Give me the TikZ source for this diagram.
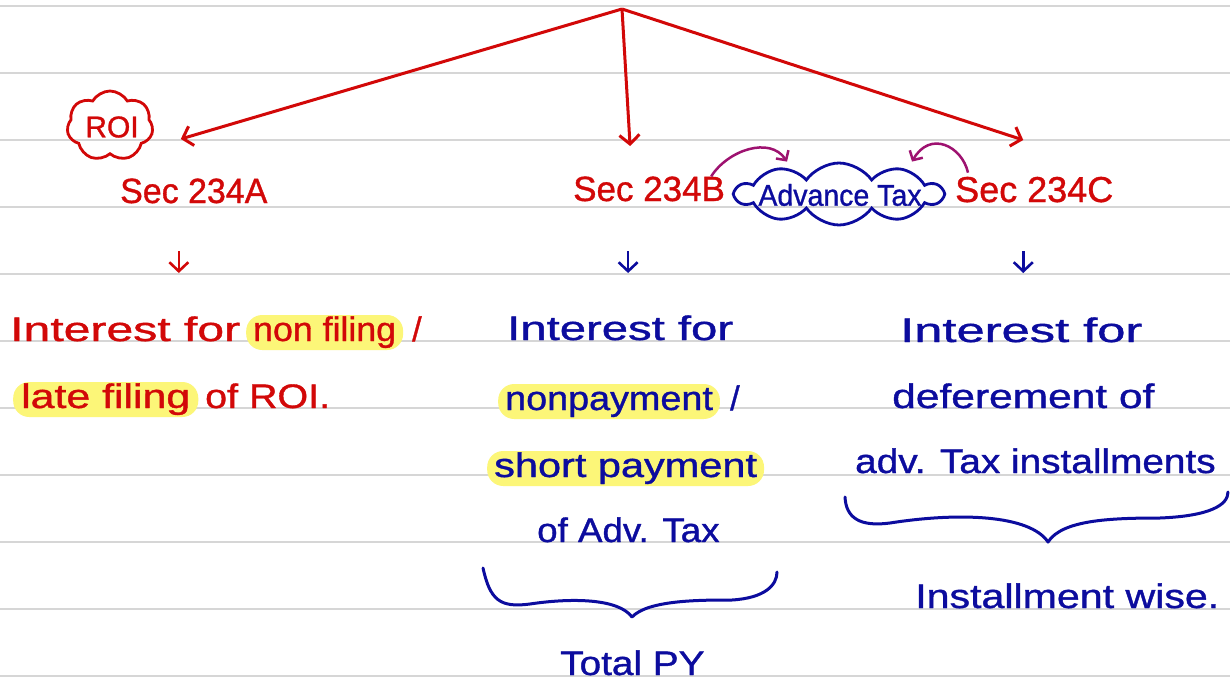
\documentclass[tikz,border=0pt]{standalone}
\usepackage{fontspec}
\setmainfont{Liberation Sans}[FakeBold=1]
\usetikzlibrary{arrows.meta,shapes.symbols,calc}
\definecolor{penred}{RGB}{210,8,8}
\definecolor{penblue}{RGB}{12,12,158}
\definecolor{penpurple}{RGB}{158,18,112}
\definecolor{hiyellow}{RGB}{252,246,120}
\definecolor{rulegray}{RGB}{214,214,214}
\newcommand{\fsz}[1]{\fontsize{#1}{#1}\selectfont}
\newcommand{\hw}[2]{\scalebox{#1}[1]{#2}}
\begin{document}
\begin{tikzpicture}[x=1pt,y=-1pt,
  redtxt/.style={text=penred, inner sep=0pt, anchor=base west, font=\fsz{34}},
  bluetxt/.style={text=penblue, inner sep=0pt, anchor=base west, font=\fsz{34}},
  hl/.style={fill=hiyellow, rounded corners=16pt, inner xsep=7pt, inner ysep=0pt, text height=26pt, text depth=9pt, anchor=base west, font=\fsz{34}},
  redarrow/.style={draw=penred, line width=3pt, -{Straight Barb[length=9pt,width=20pt,line width=3pt]}},
  smallred/.style={draw=penred, line width=2.6pt, -{Straight Barb[length=9pt,width=19pt,line width=2.6pt]}},
  smallblue/.style={draw=penblue, line width=2.6pt, -{Straight Barb[length=9pt,width=19pt,line width=2.6pt]}},
  purplearrow/.style={draw=penpurple, line width=2.5pt, -{Straight Barb[length=7pt,width=15pt,line width=2.5pt]}},
  bracepen/.style={draw=penblue, line width=3pt, line cap=round, line join=round},
  ruleline/.style={draw=rulegray, line width=1.6pt}
]
\fill[white] (0,0) rectangle (1230,682);
\useasboundingbox (0,0) rectangle (1230,682);
\foreach \y in {6,73,...,676} \draw[ruleline] (0,\y) -- (1230,\y);

% top
\coordinate (apex) at (622,9);
\node[redtxt, font=\fsz{35}] (s234a) at (120,203) {\hw{0.97}{Sec 234A}};
\node[redtxt, font=\fsz{35}] (s234b) at (573,201) {Sec 234B};
\node[redtxt, font=\fsz{36}] (s234c) at (955,202) {Sec 234C};
\draw[redarrow] (apex) -- ([xshift=-13pt,yshift=64pt]s234a.base);
\draw[redarrow] (apex) -- ([xshift=-19pt,yshift=55pt]s234b.base);
\draw[redarrow] (apex) -- ([xshift=-11pt,yshift=62pt]s234c.base);

% clouds
\node[cloud, draw=penred, line width=2.8pt, cloud puffs=7, cloud puff arc=120, aspect=1.2, minimum width=86pt, minimum height=70pt] (roic) at (110,126) {};
\node[text=penred, inner sep=0pt, font=\fsz{30}] (roi) at (112,127) {ROI};
\node[cloud, draw=penblue, line width=2.8pt, cloud puffs=10, cloud puff arc=110, aspect=3.3, minimum width=206pt, minimum height=62pt] (advc) at (839,194) {};
\node[text=penblue, inner sep=0pt, font=\fsz{30}] (adv) at (840,195) {\hw{0.95}{Advance Tax}};

% purple arrows
\draw[purplearrow] ([xshift=-14pt]s234b.north east) .. controls (728,150) and (770,136) .. ([xshift=-52pt]advc.north);
\draw[purplearrow] ([xshift=13pt,yshift=4pt]s234c.north west) .. controls (962,146) and (930,130) .. ([xshift=73pt]advc.north);

% small arrows
\draw[smallred] ([xshift=-15pt,yshift=-48pt]s234a.base) -- ([xshift=-15pt,yshift=-70pt]s234a.base);
\draw[smallblue] ([xshift=-21pt,yshift=-50pt]s234b.base) -- ([xshift=-21pt,yshift=-72pt]s234b.base);
\draw[smallblue] ([xshift=-11pt,yshift=-49pt]s234c.base) -- ([xshift=-11pt,yshift=-71pt]s234c.base);

% left column
\node[redtxt] (a1) at (10,341) {\hw{1.415}{Interest for}};
\node[hl, text=penred] (a2) at (246,341) {\hw{1.05}{non filing}};
\node[redtxt] (a3) at (412,341) {/};
\node[hl, text=penred, inner xsep=8pt] (a4) at (13,408) {\hw{1.26}{late filing}};
\node[redtxt] (a5) at (205,408) {\hw{1.16}{of ROI.}};

% middle column
\node[bluetxt] (b1) at (507,340) {\hw{1.39}{Interest for}};
\node[hl, text=penblue] (b2) at (498,410) {\hw{1.11}{nonpayment}};
\node[bluetxt] (b3) at (730,410) {/};
\node[hl, text=penblue] (b4) at (487,477) {\hw{1.22}{short payment}};
\node[bluetxt] (b5) at (537,542) {\hw{1.08}{of Adv. Tax}};
\node[bluetxt] (b6) at (560,675) {\hw{1.14}{Total PY}};
\draw[bracepen] (483,568) .. controls (490,600) and (500,608) .. (530,604)
  .. controls (570,598) and (618,598) .. (632,617)
  .. controls (648,600) and (700,600) .. (732,600)
  .. controls (765,598) and (777,585) .. (777,572);

% right column
\node[bluetxt] (c1) at (900,342) {\hw{1.49}{Interest for}};
\node[bluetxt] (c2) at (892,408) {\hw{1.25}{deferement of}};
\node[bluetxt] (c3) at (855,473) {\hw{1.14}{adv. Tax installments}};
\node[bluetxt] (c4) at (915,608) {\hw{1.21}{Installment wise.}};
\draw[bracepen] (845,497) .. controls (846,518) and (860,527) .. (890,523)
  .. controls (960,512) and (1030,515) .. (1048,542)
  .. controls (1062,520) and (1110,518) .. (1160,518)
  .. controls (1210,516) and (1228,505) .. (1228,492);
\end{tikzpicture}
\end{document}
